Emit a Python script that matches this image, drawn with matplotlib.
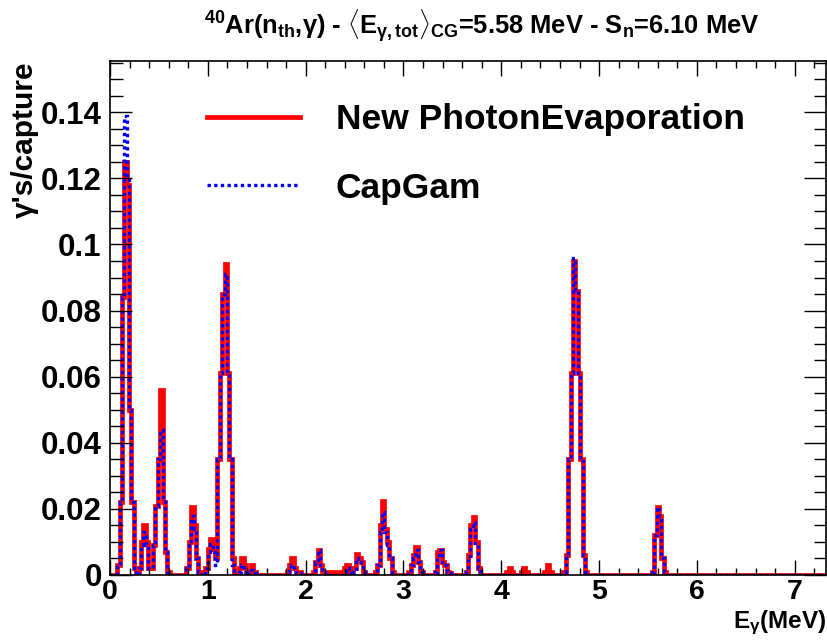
import numpy as np
import matplotlib
matplotlib.use("Agg")
import matplotlib.pyplot as plt
from matplotlib.ticker import MultipleLocator, FormatStrFormatter

# 40Ar(n_th, gamma) spectrum, gammas per capture, 300 bins from 0 to 1.2*Sn
E_MAX = 7.32
N_BINS = 300

# each cluster: low edge of first non-empty bin (MeV) and bin contents
peak_start = [0.073, 0.29, 0.415, 0.78, 0.98, 1.08, 1.32, 1.42, 1.80, 2.07,
              2.20, 2.39, 2.50, 2.70, 3.06, 3.31, 3.63, 4.06, 4.19, 4.43,
              4.64, 5.53]
new_photonevap = [
    [0.003, 0.022, 0.084, 0.125, 0.118, 0.050, 0.022, 0.002],
    [0.002, 0.010, 0.015, 0.010, 0.002],
    [0.002, 0.009, 0.021, 0.035, 0.056, 0.022, 0.007, 0.001],
    [0.002, 0.010, 0.0205, 0.015, 0.005, 0.001],
    [0.002, 0.008, 0.011, 0.008, 0.002],
    [0.005, 0.035, 0.061, 0.085, 0.094, 0.061, 0.035, 0.005],
    [0.002, 0.005, 0.003],
    [0.001, 0.003, 0.001],
    [0.001, 0.003, 0.005, 0.002, 0.001, 0.001],
    [0.001, 0.004, 0.0075, 0.003, 0.001],
    [0.001, 0.001, 0.001, 0.001, 0.001, 0.001, 0.001],
    [0.002, 0.003, 0.001],
    [0.002, 0.0065, 0.005, 0.004, 0.001],
    [0.001, 0.003, 0.015, 0.0225, 0.014, 0.010, 0.005, 0.001],
    [0.001, 0.003, 0.006, 0.0085, 0.004, 0.001],
    [0.001, 0.007, 0.0075, 0.004, 0.003, 0.001, 0.0005],
    [0.001, 0.006, 0.015, 0.0175, 0.010, 0.002],
    [0.001, 0.002, 0.001],
    [0.001, 0.002, 0.001],
    [0.001, 0.003, 0.001],
    [0.001, 0.006, 0.035, 0.061, 0.095, 0.086, 0.061, 0.035, 0.006, 0.001],
    [0.001, 0.012, 0.0205, 0.018, 0.005, 0.001],
]
capgam = [
    [0.003, 0.022, 0.084, 0.139, 0.120, 0.050, 0.022, 0.002],
    [0.002, 0.009, 0.013, 0.009, 0.002],
    [0.002, 0.009, 0.021, 0.035, 0.044, 0.023, 0.007, 0.001],
    [0.002, 0.009, 0.018, 0.014, 0.005, 0.001],
    [0.002, 0.007, 0.0095, 0.007, 0.002],
    [0.003, 0.035, 0.061, 0.085, 0.091, 0.061, 0.035, 0.003],
    [0.001, 0.003, 0.001],
    [0.0005, 0.0015, 0.0005],
    [0.001, 0.002, 0.003, 0.001, 0.0005, 0.0005],
    [0.001, 0.004, 0.0075, 0.003, 0.001],
    [0.0, 0.0, 0.0, 0.0, 0.0, 0.0, 0.0],
    [0.001, 0.002, 0.0005],
    [0.001, 0.005, 0.004, 0.003, 0.001],
    [0.001, 0.003, 0.013, 0.019, 0.013, 0.009, 0.005, 0.001],
    [0.001, 0.003, 0.005, 0.0075, 0.004, 0.001],
    [0.001, 0.006, 0.0075, 0.003, 0.003, 0.001, 0.0005],
    [0.001, 0.005, 0.014, 0.016, 0.009, 0.002],
    [0.0, 0.0, 0.0],
    [0.0, 0.0, 0.0],
    [0.0, 0.0, 0.0],
    [0.001, 0.006, 0.035, 0.061, 0.096, 0.086, 0.061, 0.035, 0.006, 0.001],
    [0.001, 0.012, 0.0205, 0.018, 0.005, 0.001],
]

edges = np.linspace(0, E_MAX, N_BINS + 1)
bw = E_MAX / N_BINS


def fill(clusters):
    h = np.zeros(N_BINS)
    for e0, vals in zip(peak_start, clusters):
        i0 = int(round(e0 / bw))
        h[i0:i0 + len(vals)] = vals
    return h


h_new = fill(new_photonevap)
h_cap = fill(capgam)

plt.rcParams['font.family'] = ['Liberation Sans', 'DejaVu Sans']
plt.rcParams['font.weight'] = 'bold'
plt.rcParams['mathtext.fontset'] = 'custom'
plt.rcParams['mathtext.rm'] = 'Liberation Sans:bold'
plt.rcParams['mathtext.it'] = 'Liberation Sans:bold'
plt.rcParams['mathtext.bf'] = 'Liberation Sans:bold'

fig = plt.figure(figsize=(8.27, 6.40), dpi=100)
ax = fig.add_axes([110 / 827, 1 - 575 / 640, 716 / 827, 514 / 640])

ax.stairs(h_new, edges, color='#ff0000', lw=3.4, label='New PhotonEvaporation')
ax.stairs(h_cap, edges, color='#0000ff', lw=2.4, linestyle=(0, (1, 1)),
          label='CapGam')

ax.set_xlim(0, E_MAX)
ax.set_ylim(0, 0.1555)

ax.xaxis.set_major_locator(MultipleLocator(1))
ax.xaxis.set_minor_locator(MultipleLocator(0.2))
ax.yaxis.set_major_locator(MultipleLocator(0.02))
ax.yaxis.set_minor_locator(MultipleLocator(0.005))
ax.yaxis.set_major_formatter(FormatStrFormatter('%g'))

ax.tick_params(which='both', direction='in', top=True, right=True, width=1)
ax.tick_params(axis='x', which='major', length=11, labelsize=20.5, pad=3)
ax.tick_params(axis='x', which='minor', length=5)
ax.tick_params(axis='y', which='major', length=16, labelsize=22.5, pad=6)
ax.tick_params(axis='y', which='minor', length=9)
for s in ax.spines.values():
    s.set_linewidth(1.2)

ax.set_xlabel(r'E$_{\gamma}$(MeV)', fontsize=17.5, fontweight='bold')
ax.xaxis.set_label_coords(1.0, -0.1215)
ax.xaxis.label.set_ha('right')
ax.xaxis.label.set_va('bottom')
ax.set_ylabel("γ's/capture", fontsize=21.5, fontweight='bold')
ax.yaxis.set_label_coords(-0.138, 1.0)
ax.yaxis.label.set_va('top')
ax.yaxis.label.set_ha('right')

fig.text(0.582, 0.958,
         r'$^{40}$Ar(n$_{th}$,$\gamma$) - $\langle$E$_{\gamma,tot}\rangle_{CG}$'
         r'=5.58 MeV - S$_{n}$=6.10 MeV',
         ha='center', va='center', fontsize=18.4, fontweight='bold')

leg = ax.legend(loc='upper left', bbox_to_anchor=(0.115, 0.945), frameon=False,
                fontsize=25.5, handlelength=2.65, handletextpad=1.0,
                labelspacing=1.0, borderaxespad=0)

fig.savefig('out.png', dpi=100)
